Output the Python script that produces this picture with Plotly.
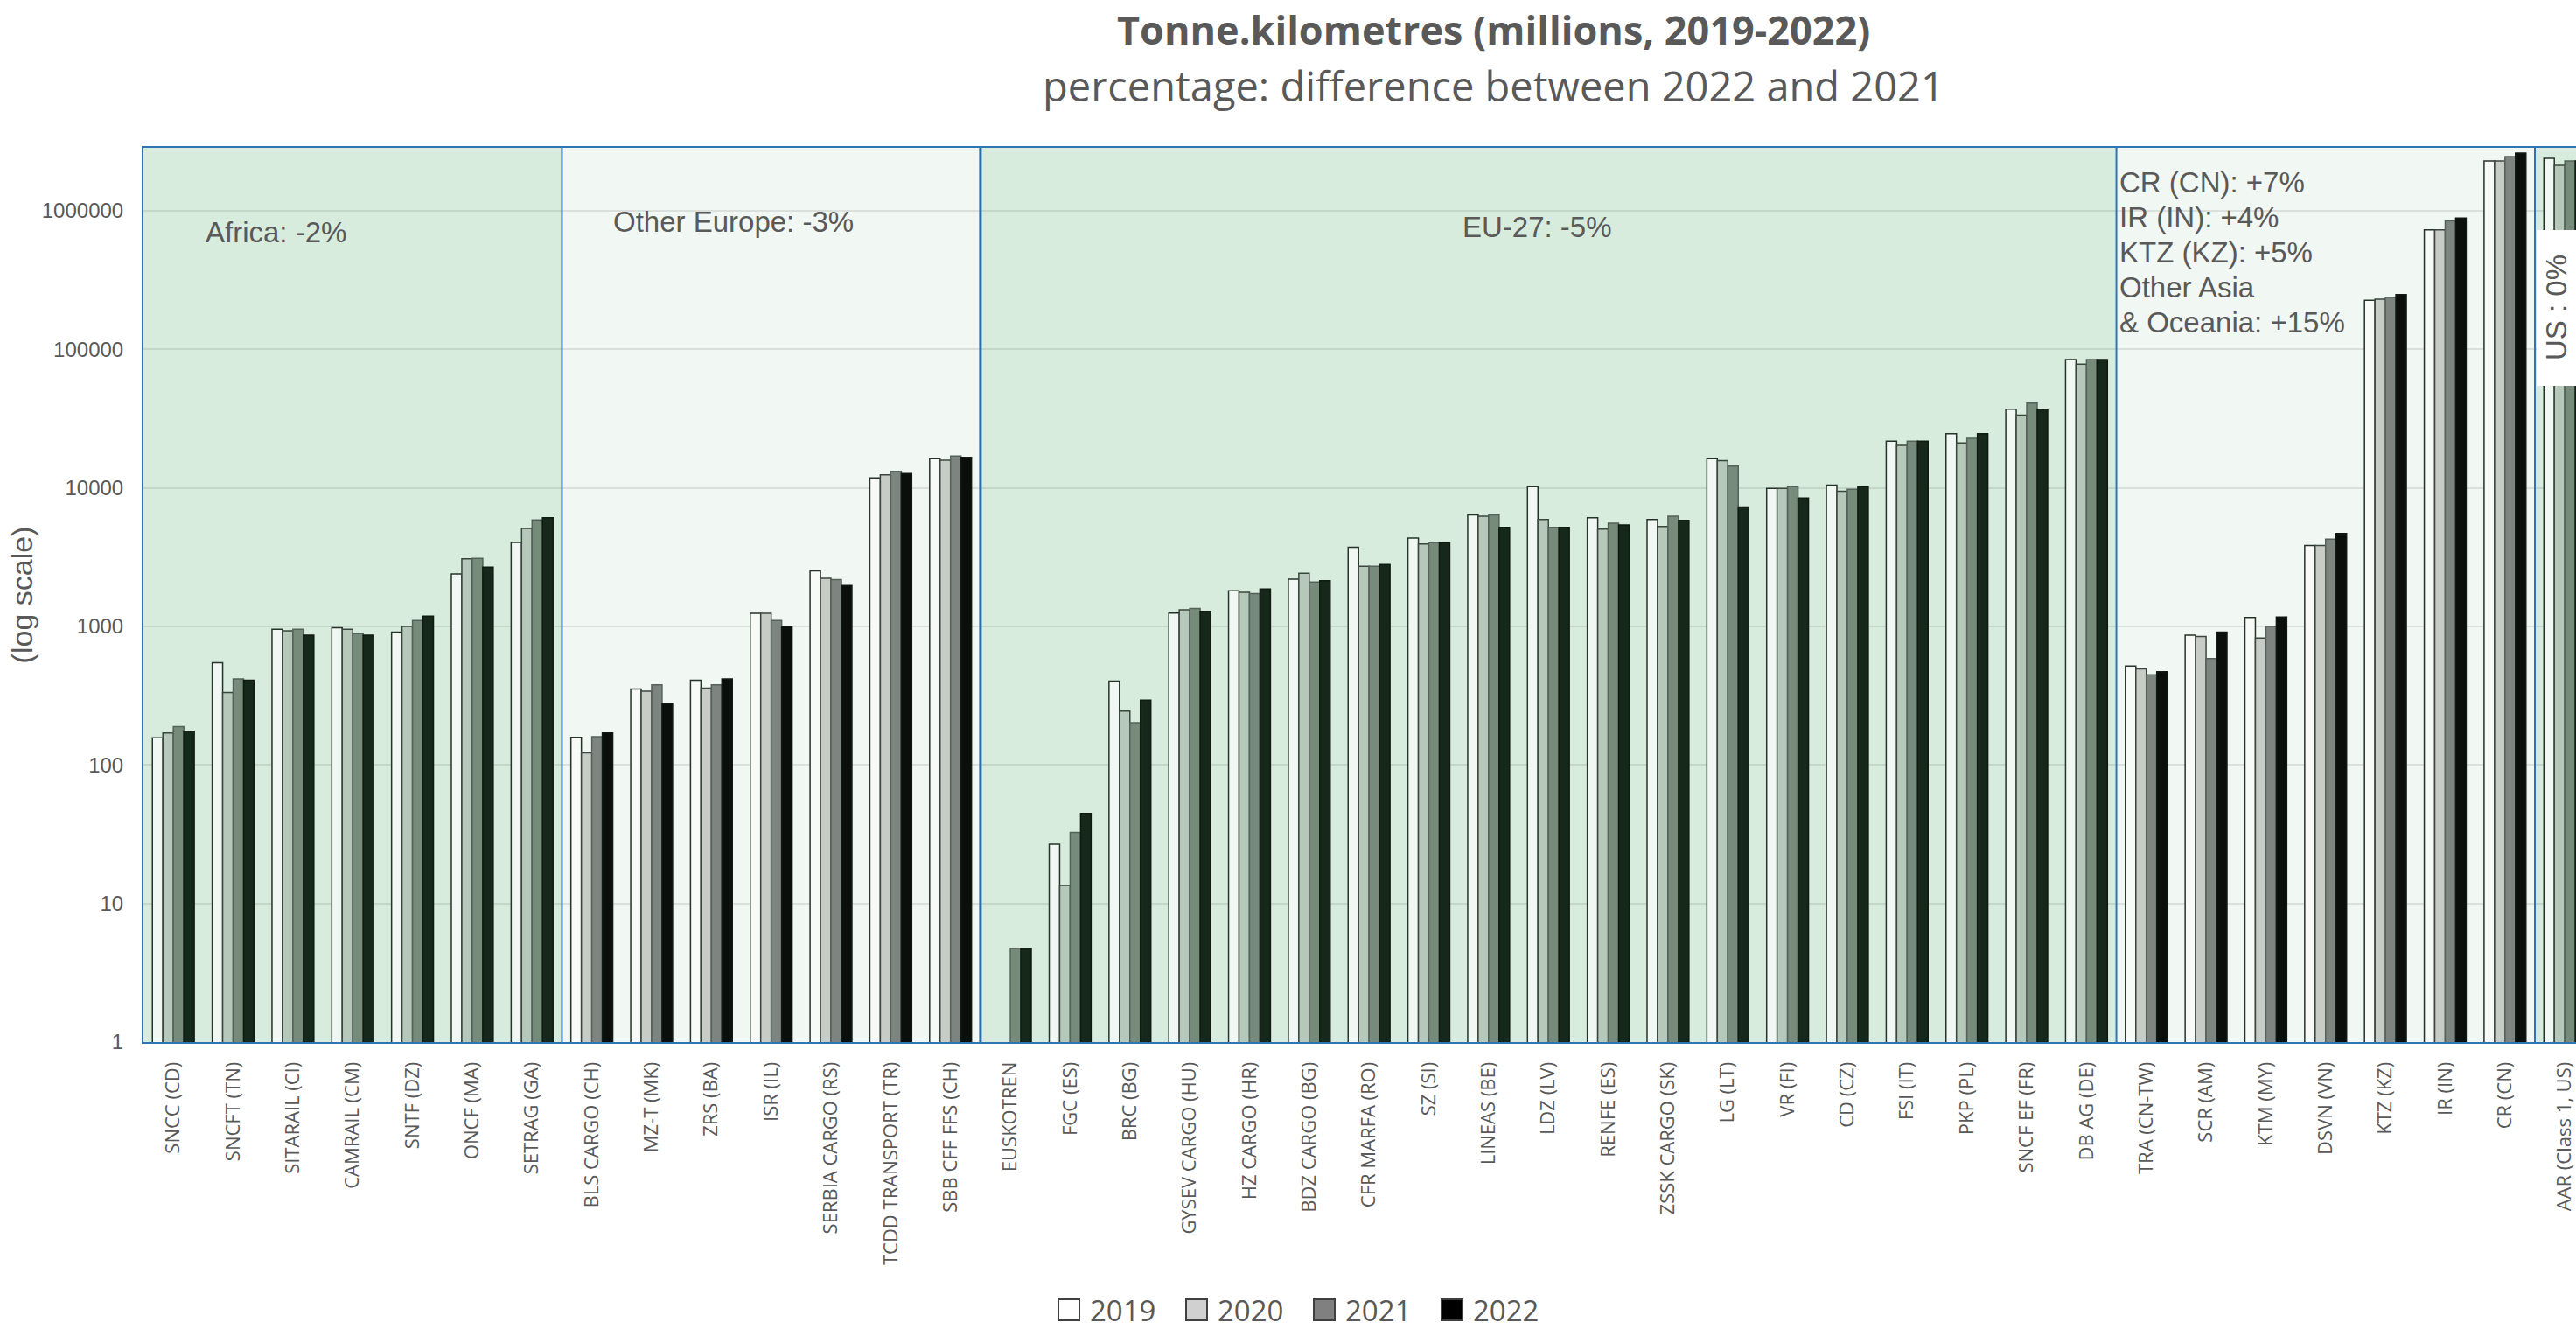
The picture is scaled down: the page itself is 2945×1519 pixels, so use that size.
import plotly.graph_objects as go

# ---------------- data ----------------
categories = [
    "SNCC (CD)", "SNCFT (TN)", "SITARAIL (CI)", "CAMRAIL (CM)", "SNTF (DZ)", "ONCF (MA)", "SETRAG (GA)",
    "BLS CARGO (CH)", "MZ-T (MK)", "ZRS (BA)", "ISR (IL)", "SERBIA CARGO (RS)", "TCDD TRANSPORT (TR)", "SBB CFF FFS (CH)",
    "EUSKOTREN", "FGC (ES)", "BRC (BG)", "GYSEV CARGO (HU)", "HZ CARGO (HR)", "BDZ CARGO (BG)", "CFR MARFA (RO)",
    "SZ (SI)", "LINEAS (BE)", "LDZ (LV)", "RENFE (ES)", "ZSSK CARGO (SK)", "LG (LT)", "VR (FI)", "CD (CZ)",
    "FSI (IT)", "PKP (PL)", "SNCF EF (FR)", "DB AG (DE)",
    "TRA (CN-TW)", "SCR (AM)", "KTM (MY)", "DSVN (VN)", "KTZ (KZ)", "IR (IN)", "CR (CN)",
    "AAR (Class 1, US)",
]
years = ["2019", "2020", "2021", "2022"]

v2019 = [157, 546, 953, 976, 908, 2393, 4030,
         158, 353, 408, 1244, 2512, 11780, 16250,
         None, 26.7, 402, 1247, 1804, 2188, 3723, 4345, 6385, 10210, 6095, 5916, 16220, 9906, 10450,
         21740, 24590, 36980, 84400,
         518, 863, 1159, 3830, 226000, 729000, 2290000,
         2390000]
v2020 = [170, 333, 930, 953, 1000, 3070, 5100,
         122, 341, 358, 1244, 2225, 12410, 15850,
         None, 13.5, 245, 1316, 1763, 2418, 2716, 3929, 6237, 5916, 5032, 5271, 15730, 9906, 9460,
         20290, 21090, 33470, 78100,
         494, 846, 823, 3830, 230000, 729000, 2290000,
         2130000]
v2021 = [189, 418, 953, 886, 1102, 3090, 5870,
         160, 378, 379, 1102, 2172, 13130, 16980,
         4.74, 32.6, 202, 1346, 1722, 2089, 2716, 4020, 6385, 5188, 5559, 6237, 14350, 10210, 9750,
         21740, 22770, 40900, 84400,
         447, 585, 1000, 4266, 237000, 844000, 2460000,
         2290000]
v2022 = [175, 408, 865, 865, 1185, 2680, 6080,
         170, 277, 418, 1000, 1972, 12700, 16600,
         4.74, 44.7, 293, 1285, 1862, 2138, 2800, 4020, 5188, 5188, 5393, 5823, 7280, 8430, 10210,
         21740, 24590, 36980, 84400,
         471, 910, 1167, 4690, 248000, 885000, 2610000,
         2290000]
series = [v2019, v2020, v2021, v2022]

region_counts = [7, 7, 19, 7, 1]
region_shade = ["dark", "light", "dark", "light", "dark"]
region_labels = [["Africa: -2%"], ["Other Europe: -3%"], ["EU-27: -5%"],
                 ["CR (CN): +7%", "IR (IN): +4%", "KTZ (KZ): +5%", "Other Asia", "& Oceania: +15%"],
                 ["US : 0%"]]

y_tickvals = [1, 10, 100, 1000, 10000, 100000, 1000000]
y_ticktext = ["1", "10", "100", "1000", "10000", "100000", "1000000"]

# ---------------- styling ----------------
W, H = 2945, 1519
L, R, T, B = 164, 0, 169, 328
PW, PH = W - L - R, H - T - B
GRAY = "#595959"
BLUE = "#2E75B6"

def px_x(x):
    return (x - L) / PW

def px_y(y):
    return (H - B - y) / PH

bg = {"dark": "#D8ECDE", "light": "#F1F7F2"}
bar_cols = {
    "dark": ["#F1F8F3", "#B5C8B9", "#778B7B", "#15281A"],
    "light": ["#F7FAF7", "#C8CCC7", "#7E847F", "#0A0F0B"],
}
line_cols = ["#263328", "#3A463D", "#55625A", "#101A12"]

point_shade = []
for n, s in zip(region_counts, region_shade):
    point_shade += [s] * n

fig = go.Figure()
for i, (yr, vals) in enumerate(zip(years, series)):
    fig.add_trace(go.Bar(
        x=categories, y=vals, name=yr, showlegend=False,
        marker=dict(color=[bar_cols[s][i] for s in point_shade],
                    line=dict(color=line_cols[i], width=1.5)),
    ))

shapes = []
annotations = []
start = -0.5
bounds = []
for n, s in zip(region_counts, region_shade):
    shapes.append(dict(type="rect", xref="x", yref="paper", x0=start, x1=start + n, y0=0, y1=1,
                       fillcolor=bg[s], line=dict(width=0), layer="below"))
    bounds.append(start + n)
    start += n
for b, w in zip(bounds[:-1], [2, 3, 2, 2]):
    shapes.append(dict(type="line", xref="x", yref="paper", x0=b, x1=b, y0=0, y1=1,
                       line=dict(color=BLUE if w == 2 else "#1F6DB3", width=w), layer="above"))

lab_font = dict(family="Liberation Sans, Arial, sans-serif", size=33, color=GRAY)
# region label positions (pixels)
annotations.append(dict(text=region_labels[0][0], x=px_x(233), y=px_y(265), xref="paper", yref="paper",
                        xanchor="left", yanchor="middle", showarrow=False, font=lab_font))
annotations.append(dict(text=region_labels[1][0], x=px_x(699), y=px_y(253), xref="paper", yref="paper",
                        xanchor="left", yanchor="middle", showarrow=False, font=lab_font))
annotations.append(dict(text=region_labels[2][0], x=px_x(1670), y=px_y(259), xref="paper", yref="paper",
                        xanchor="left", yanchor="middle", showarrow=False, font=lab_font))
for k, txt in enumerate(region_labels[3]):
    annotations.append(dict(text=txt, x=px_x(2421), y=px_y(208 + 40 * k), xref="paper", yref="paper",
                            xanchor="left", yanchor="middle", showarrow=False, font=lab_font))
# US box
shapes.append(dict(type="rect", xref="paper", yref="paper", x0=px_x(2900), x1=px_x(2960),
                   y0=px_y(441), y1=px_y(263), fillcolor="white", line=dict(width=0), layer="above"))
annotations.append(dict(text=region_labels[4][0], x=px_x(2922), y=px_y(352), xref="paper", yref="paper",
                        xanchor="center", yanchor="middle", textangle=-90, showarrow=False, font=lab_font))

# titles
annotations.append(dict(text="<b>Tonne.kilometres (millions, 2019-2022)</b>", x=px_x(1707), y=px_y(34),
                        xref="paper", yref="paper", xanchor="center", yanchor="middle", showarrow=False,
                        font=dict(family="Open Sans, sans-serif", size=45, color=GRAY)))
annotations.append(dict(text="percentage: difference between 2022 and 2021", x=px_x(1707), y=px_y(98),
                        xref="paper", yref="paper", xanchor="center", yanchor="middle", showarrow=False,
                        font=dict(family="Open Sans, sans-serif", size=47, color=GRAY)))

# manual legend
leg_fill = ["#FFFFFF", "#D0D0D0", "#808080", "#000000"]
for k, yr in enumerate(years):
    x0 = 1210 + 146 * k
    shapes.append(dict(type="rect", xref="paper", yref="paper", x0=px_x(x0), x1=px_x(x0 + 24),
                       y0=px_y(1509), y1=px_y(1485), fillcolor=leg_fill[k],
                       line=dict(color="#404040", width=2)))
    annotations.append(dict(text=yr, x=px_x(x0 + 34), y=px_y(1497), xref="paper", yref="paper",
                            xanchor="left", yanchor="middle", showarrow=False,
                            font=dict(family="Open Sans, sans-serif", size=33, color=GRAY)))

n_vis = (W - L) / ((2898 - L) / 40.0)
fig.update_layout(
    width=W, height=H,
    margin=dict(l=L, r=R, t=T, b=B, pad=0),
    paper_bgcolor="white", plot_bgcolor="white",
    barmode="group", bargap=0.3, bargroupgap=0,
    shapes=shapes, annotations=annotations,
    showlegend=False,
    xaxis=dict(type="category", range=[-0.5, -0.5 + n_vis], tickangle=-90,
               tickfont=dict(family="Open Sans, sans-serif", size=22, color=GRAY),
               showgrid=False, showline=True, linecolor=BLUE, linewidth=2, mirror=True,
               ticks="", ticklabelstandoff=12, fixedrange=True),
    yaxis=dict(type="log", range=[0, 6.454], tickvals=y_tickvals, ticktext=y_ticktext,
               tickfont=dict(family="Liberation Sans, Arial, sans-serif", size=24, color=GRAY),
               showgrid=True, gridcolor="rgba(0,0,0,0.09)", gridwidth=2,
               showline=True, linecolor=BLUE, linewidth=2, ticks="", ticklabelstandoff=16,
               zeroline=False,
               title=dict(text="(log scale)", standoff=0,
                          font=dict(family="Liberation Sans, Arial, sans-serif", size=34, color=GRAY))),
)

fig.write_html("out.html", config={"displayModeBar": False},
               post_script="document.body.style.margin='0';document.body.style.overflow='hidden';")
